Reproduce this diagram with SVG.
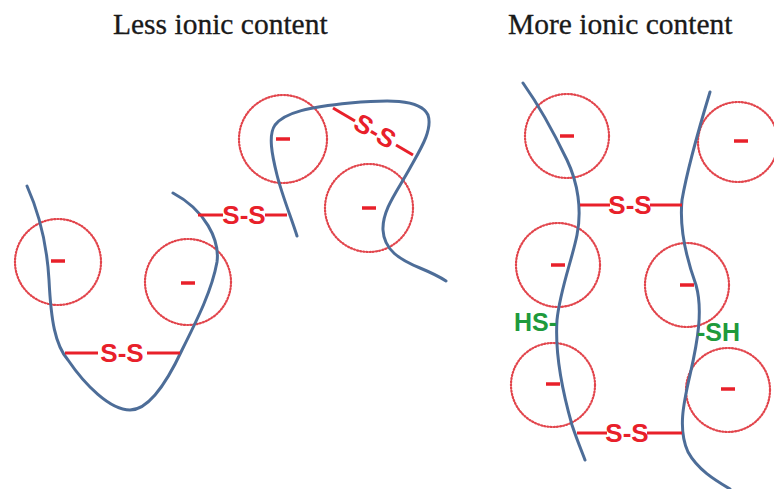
<svg xmlns="http://www.w3.org/2000/svg" width="774" height="489" viewBox="0 0 774 489">
<style>
.title{font-family:"Liberation Serif","Times New Roman",serif;font-size:29.5px;fill:#1a1a1a;stroke:#1a1a1a;stroke-width:0.3;}
.ion{fill:none;stroke:#e2454c;stroke-width:2.2;stroke-dasharray:1.2 2;stroke-linecap:round;}
.minus{stroke:#e8202a;stroke-width:3.5;}
.chain{fill:none;stroke:#4d6d98;stroke-width:3;stroke-linecap:round;}
.bond{stroke:#e8202a;stroke-width:3;}
.ss{font-family:"Liberation Sans",Arial,sans-serif;font-weight:bold;font-size:26px;fill:#e8202a;text-anchor:middle;}
.sh{font-family:"Liberation Sans",Arial,sans-serif;font-weight:bold;font-size:25px;fill:#1e9a3c;}
</style>
<rect width="774" height="489" fill="#fff"/>
<text class="title" x="113" y="34">Less ionic content</text>
<text class="title" x="508" y="34">More ionic content</text>

<g id="ion1"><circle class="ion" cx="58" cy="262" r="43"/><line class="minus" x1="51" y1="261" x2="65" y2="261"/></g>
<g id="ion2"><circle class="ion" cx="188" cy="282" r="43"/><line class="minus" x1="181" y1="283" x2="195" y2="283"/></g>
<g id="ion3"><circle class="ion" cx="283" cy="139" r="44"/><line class="minus" x1="276" y1="139" x2="290" y2="139"/></g>
<g id="ion4"><circle class="ion" cx="369" cy="208" r="44"/><line class="minus" x1="362" y1="208" x2="376" y2="208"/></g>
<g id="ion5"><circle class="ion" cx="567" cy="136" r="42"/><line class="minus" x1="560" y1="136" x2="574" y2="136"/></g>
<g id="ion6"><circle class="ion" cx="738" cy="142" r="40"/><line class="minus" x1="734" y1="141" x2="748" y2="141"/></g>
<g id="ion7"><circle class="ion" cx="558" cy="265" r="42"/><line class="minus" x1="551" y1="265" x2="565" y2="265"/></g>
<g id="ion8"><circle class="ion" cx="687" cy="285" r="42"/><line class="minus" x1="680" y1="285" x2="694" y2="285"/></g>
<g id="ion9"><circle class="ion" cx="553" cy="385" r="42"/><line class="minus" x1="546" y1="384" x2="560" y2="384"/></g>
<g id="ion10"><circle class="ion" cx="728" cy="390" r="42"/><line class="minus" x1="721" y1="389" x2="735" y2="389"/></g>

<g id="chains">
<path id="chainA" class="chain" d="M27,186 C40,215 47,245 49,280 C51,320 55,345 68,360 C85,385 110,410 130,410 C150,410 168,380 182,350 C198,318 212,290 217,262 C220,240 205,210 173,193"/>
<path id="chainB" class="chain" d="M297,236 C292,220 282,195 277,175 C272,155 268,135 275,125 C285,112 310,107 350,103 C385,100 420,98 428,115 C433,130 420,150 410,168 C398,190 382,210 383,230 C384,250 400,260 420,268 C432,273 440,277 446,281"/>
<path id="chainC" class="chain" d="M523,83 C540,107 555,135 567,160 C578,183 582,210 577,235 C572,260 560,290 557,320 C555,350 562,390 572,425 C577,440 582,452 585,460"/>
<path id="chainD" class="chain" d="M710,92 C700,125 688,165 682,200 C679,230 687,260 696,285 C703,310 698,340 690,375 C683,405 678,430 688,452 C698,470 715,480 730,489"/>
</g>

<g id="connectors">
<g id="ss1"><line class="bond" x1="65" y1="353" x2="98" y2="353"/><line class="bond" x1="147" y1="353" x2="180" y2="353"/><text class="ss" x="122" y="362">S-S</text></g>
<g id="ss2"><line class="bond" x1="198" y1="215" x2="223" y2="215"/><line class="bond" x1="265" y1="215" x2="287" y2="215"/><text class="ss" x="244" y="224">S-S</text></g>
<g id="ss3"><line class="bond" x1="333" y1="108" x2="355" y2="121"/><line class="bond" x1="396" y1="145" x2="413" y2="155"/><text class="ss" x="375" y="140" transform="rotate(30 375 131)">S-S</text></g>
<g id="ss4"><line class="bond" x1="580" y1="205" x2="610" y2="205"/><line class="bond" x1="650" y1="205" x2="682" y2="205"/><text class="ss" x="630" y="214">S-S</text></g>
<g id="ss5"><line class="bond" x1="577" y1="433" x2="607" y2="433"/><line class="bond" x1="647" y1="433" x2="682" y2="433"/><text class="ss" x="627" y="442">S-S</text></g>
</g>
<g id="thiols">
<text class="sh" x="514" y="331">HS-</text>
<text class="sh" x="697" y="341">-SH</text>
</g>
</svg>
